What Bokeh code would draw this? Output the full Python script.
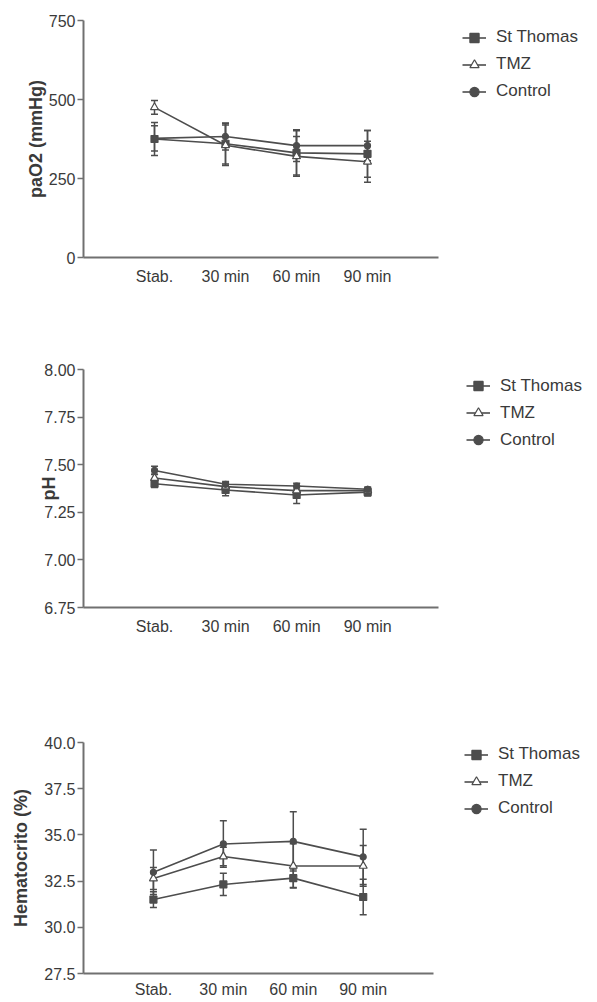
from bokeh.plotting import figure
from bokeh.layouts import column
from bokeh.models import (ColumnDataSource, Whisker, TeeHead, Legend, LegendItem,
                          FixedTicker, Range1d, NumeralTickFormatter)
from bokeh.embed import file_html
from bokeh.resources import INLINE

# ---------------- data ----------------
categories = ["Stab.", "30 min", "60 min", "90 min"]
series_names = ["St Thomas", "TMZ", "Control"]

pao2_st_thomas = [375, 360, 331, 328]
pao2_st_thomas_sem = [52, 64, 70, 74]
pao2_tmz = [475, 355, 320, 303]
pao2_tmz_sem = [22, 64, 63, 65]
pao2_control = [377, 383, 354, 354]
pao2_control_sem = [40, 43, 50, 48]

ph_st_thomas = [7.400, 7.367, 7.341, 7.356]
ph_st_thomas_sem = [0.020, 0.030, 0.045, 0.020]
ph_tmz = [7.430, 7.385, 7.364, 7.364]
ph_tmz_sem = [0.020, 0.020, 0.020, 0.015]
ph_control = [7.470, 7.397, 7.388, 7.371]
ph_control_sem = [0.022, 0.015, 0.015, 0.012]

hct_st_thomas = [31.50, 32.32, 32.66, 31.64]
hct_st_thomas_sem = [0.43, 0.60, 0.50, 0.96]
hct_tmz = [32.64, 33.83, 33.32, 33.32]
hct_tmz_sem = [0.60, 0.50, 1.20, 1.10]
hct_control = [32.98, 34.51, 34.65, 33.81]
hct_control_sem = [1.20, 1.26, 1.60, 1.50]

pao2_ticks = [0, 250, 500, 750]
ph_ticks = [6.75, 7.00, 7.25, 7.50, 7.75, 8.00]
hct_ticks = [27.5, 30.0, 32.5, 35.0, 37.5, 40.0]

# ---------------- style ----------------
FONT = "Liberation Sans"
LINE = "#4d4d4d"
AXIS = "#707070"
TEXT = "#3a3a3a"
TOTAL_W = 596


def panel(height, top, frame_h, left, axis_w, y_range, ticks, fmt, ylabel,
          title_standoff, x_standoff, data, legend_top_offset):
    n_slots = len(categories) + 1          # axis spans 0 .. 5
    full_w = TOTAL_W - left
    p = figure(width=TOTAL_W, height=height, output_backend="svg",
               toolbar_location=None,
               x_range=Range1d(0, n_slots * full_w / axis_w),
               y_range=Range1d(*y_range),
               min_border_top=top, min_border_left=left,
               min_border_right=0,
               min_border_bottom=height - top - frame_h)
    p.outline_line_color = None
    p.xgrid.grid_line_color = None
    p.ygrid.grid_line_color = None
    p.background_fill_color = "white"
    p.border_fill_color = "white"

    xs = list(range(1, len(categories) + 1))
    markers = {
        "St Thomas": dict(marker="square", size=7, fill_color=LINE),
        "TMZ": dict(marker="triangle", size=8, fill_color="white"),
        "Control": dict(marker="circle", size=6, fill_color=LINE),
    }
    items = []
    for name, (vals, sems) in zip(series_names, data):
        src = ColumnDataSource(dict(
            x=xs, y=vals,
            upper=[v + s for v, s in zip(vals, sems)],
            lower=[v - s for v, s in zip(vals, sems)]))
        w = Whisker(base="x", upper="upper", lower="lower", source=src,
                    line_color=LINE, line_width=1.5,
                    upper_head=TeeHead(size=7, line_color=LINE, line_width=1.5),
                    lower_head=TeeHead(size=7, line_color=LINE, line_width=1.5))
        p.add_layout(w)
        lr = p.line("x", "y", source=src, line_color=LINE, line_width=1.6)
        m = markers[name]
        sr = p.scatter("x", "y", source=src, marker=m["marker"], size=m["size"],
                       fill_color=m["fill_color"], line_color=LINE, line_width=1.2)
        items.append(LegendItem(label=name, renderers=[lr, sr]))

    legend_h = 3 * 23 + 2 * 4
    legend = Legend(items=items,
                    location=(462 - left, frame_h - legend_top_offset - legend_h),
                    margin=0, padding=0, spacing=4,
                    label_height=23, glyph_height=23, glyph_width=24,
                    label_standoff=10, label_text_font=FONT,
                    label_text_font_size="17px", label_text_color=TEXT,
                    border_line_color=None, background_fill_alpha=0)
    p.add_layout(legend)

    # x axis
    xa = p.xaxis[0]
    xa.bounds = (0, n_slots)
    xa.ticker = FixedTicker(ticks=xs)
    xa.major_label_overrides = {i + 1: c for i, c in enumerate(categories)}
    xa.major_tick_out = 0
    xa.major_tick_in = 0
    xa.minor_tick_out = 0
    xa.minor_tick_in = 0
    xa.axis_line_color = AXIS
    xa.axis_line_width = 2
    xa.major_label_standoff = x_standoff
    xa.major_label_text_font = FONT
    xa.major_label_text_font_size = "16px"
    xa.major_label_text_color = TEXT

    # y axis
    ya = p.yaxis[0]
    ya.ticker = FixedTicker(ticks=ticks)
    ya.formatter = NumeralTickFormatter(format=fmt)
    ya.major_tick_out = 6
    ya.major_tick_in = 0
    ya.minor_tick_out = 0
    ya.minor_tick_in = 0
    ya.major_tick_line_color = AXIS
    ya.major_tick_line_width = 1.5
    ya.axis_line_color = AXIS
    ya.axis_line_width = 2
    ya.major_label_standoff = 2
    ya.major_label_text_font = FONT
    ya.major_label_text_font_size = "16px"
    ya.major_label_text_color = TEXT
    ya.axis_label = ylabel
    ya.axis_label_text_font = FONT
    ya.axis_label_text_font_style = "bold"
    ya.axis_label_text_font_size = "18px"
    ya.axis_label_text_color = TEXT
    ya.axis_label_standoff = title_standoff
    return p


p1 = panel(330, 20, 237, 83, 355, (0, 750), pao2_ticks, "0", "paO2 (mmHg)", 0, 10,
           [(pao2_st_thomas, pao2_st_thomas_sem), (pao2_tmz, pao2_tmz_sem),
            (pao2_control, pao2_control_sem)], 5.5)
p2 = panel(320, 39, 238, 79, 358, (6.75, 8.00), ph_ticks, "0.00", "pH", -18, 10,
           [(ph_st_thomas, ph_st_thomas_sem), (ph_tmz, ph_tmz_sem),
            (ph_control, ph_control_sem)], 5.2)
p3 = panel(350, 92, 234, 81, 351, (27.5, 40.0), hct_ticks, "0.0", "Hematocrito (%)", 10, 7,
           [(hct_st_thomas, hct_st_thomas_sem), (hct_tmz, hct_tmz_sem),
            (hct_control, hct_control_sem)], 3.5)

layout = column(p1, p2, p3, spacing=0)
open("out.html", "w").write(file_html(layout, INLINE))
